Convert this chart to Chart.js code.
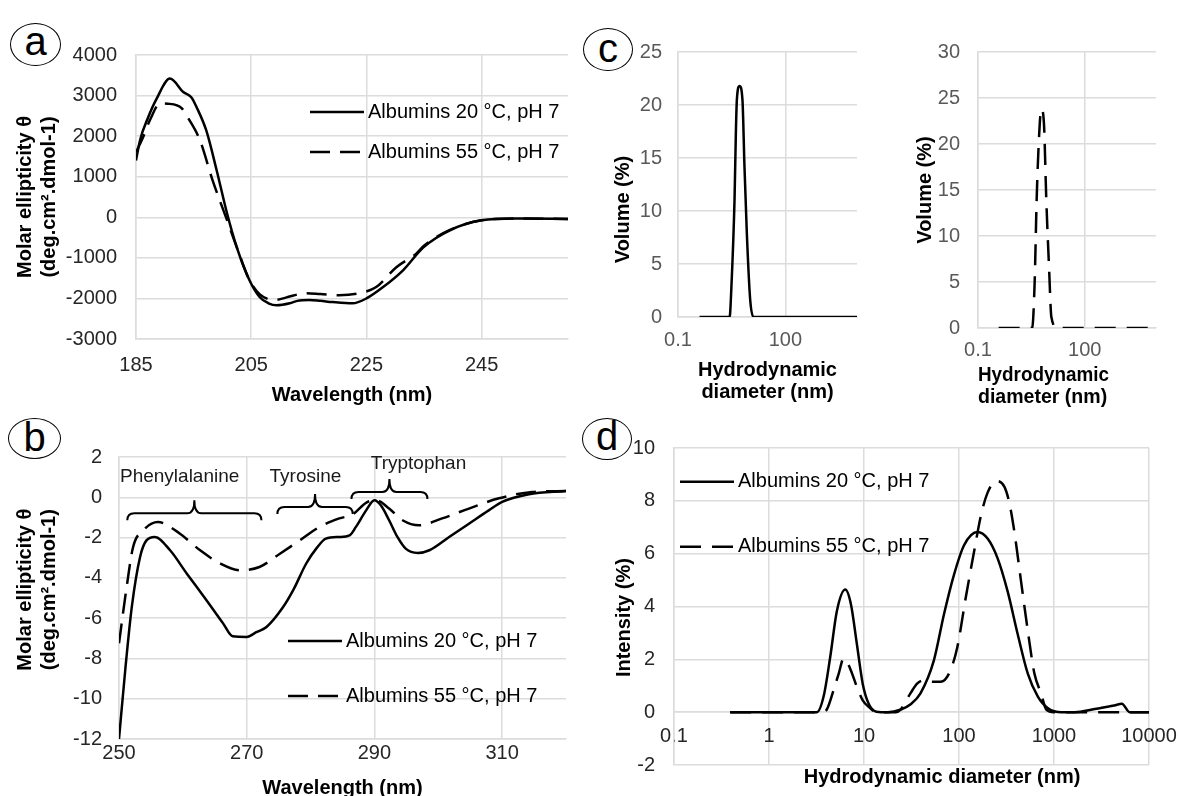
<!DOCTYPE html>
<html>
<head>
<meta charset="utf-8">
<script src="https://cdn.jsdelivr.net/npm/chart.js@4.4.1/dist/chart.umd.min.js"></script>
<style>
    html, body { margin: 0; padding: 0; background: #fff; width: 1178px; height: 796px; overflow: hidden; }
    canvas { position: absolute; }
    .tag {
        position: absolute; box-sizing: border-box; border: 1.5px solid #000; border-radius: 50%;
        font: 40px "Liberation Sans", Arial, sans-serif; text-align: center; color: #000;
    }
</style>
</head>
<body>
<div class="tag" style="left:10px;top:23px;width:51px;height:43px;line-height:34px;">a</div>
<div class="tag" style="left:8px;top:418px;width:53px;height:41px;line-height:36px;">b</div>
<div class="tag" style="left:583px;top:28px;width:50px;height:43px;line-height:38px;">c</div>
<div class="tag" style="left:582px;top:418px;width:50px;height:42px;line-height:35px;">d</div>

<canvas id="chartA" width="580" height="400" style="left:0;top:10px"></canvas>
<canvas id="chartB" width="580" height="400" style="left:0;top:410px"></canvas>
<canvas id="chartC1" width="300" height="390" style="left:570px;top:20px"></canvas>
<canvas id="chartC2" width="290" height="400" style="left:880px;top:20px"></canvas>
<canvas id="chartD" width="623" height="386" style="left:570px;top:410px"></canvas>

<script>
// (a) far-UV CD spectra
const farWavelength20 = [185, 185.7, 187.1, 188.5, 190.9, 193.2, 194.6, 195.5, 197.2, 199, 200.8, 202.5, 204.7, 206.5, 208, 209.4, 211.7, 213, 215.1, 217, 219.1, 222.6, 225, 227.9, 231.4, 234.9, 239.5, 245, 251, 260];
const farTheta20 = [1400, 1900, 2460, 2900, 3420, 3090, 2960, 2720, 2140, 1160, 100, -740, -1550, -1970, -2120, -2170, -2120, -2060, -2040, -2060, -2090, -2120, -2000, -1720, -1300, -740, -320, -75, -30, -40];
const farWavelength55 = [185, 186.3, 187.4, 189.2, 190.5, 192.1, 193, 194, 196.1, 198.3, 200.8, 202.5, 204.7, 206.5, 209.1, 211, 214.6, 217, 220.3, 223.8, 226.7, 230.2, 233.7, 235, 239.5, 245, 251, 260];
const farTheta55 = [1600, 2000, 2390, 2810, 2800, 2760, 2680, 2460, 1900, 910, -70, -740, -1550, -1900, -2040, -1980, -1870, -1890, -1920, -1870, -1720, -1230, -890, -700, -310, -75, -30, -40];
const farTicksX = [185, 205, 225, 245];

// (b) near-UV CD spectra
const nearWavelength20 = [250, 251, 252, 253.3, 254.3, 255.6, 258, 260.6, 263.7, 266.3, 267.8, 270, 271.5, 273.1, 275.7, 277.3, 279.3, 281, 282.4, 284.5, 286.1, 287.1, 288.7, 290, 291, 292.3, 293.6, 294.9, 296.8, 298.6, 301.7, 304.8, 307.9, 310, 314.2, 320];
const nearTheta20 = [-12, -8.5, -5.45, -2.96, -2.14, -1.97, -2.63, -3.78, -5.11, -6.26, -6.9, -6.93, -6.7, -6.44, -5.45, -4.6, -3.3, -2.5, -2.05, -1.97, -1.89, -1.47, -0.65, -0.15, -0.4, -1.14, -1.97, -2.55, -2.76, -2.63, -1.97, -1.31, -0.65, -0.23, 0.15, 0.31];
const nearWavelength55 = [250, 251.2, 252.2, 253.8, 256.1, 259.5, 262.7, 265.8, 268.9, 272, 275.2, 278.3, 281.4, 284.5, 286.6, 288.8, 290.3, 292.3, 294.4, 297, 300.6, 304.8, 309.5, 314.7, 320];
const nearTheta55 = [-7.25, -4.45, -2.48, -1.64, -1.23, -1.8, -2.63, -3.28, -3.62, -3.46, -2.8, -2.14, -1.47, -1.05, -0.85, -0.25, -0.15, -0.56, -1.14, -1.39, -1.05, -0.56, -0.05, 0.26, 0.31];
const nearTicksX = [250, 270, 290, 310];
const braceLabels = ['Phenylalanine', 'Tyrosine', 'Tryptophan'];
const braceFrom = [251.3, 274.8, 286.4];
const braceTo = [272.3, 286.6, 298.3];

// (c) DLS volume distributions
const volDiameter20 = [0.4, 2.74, 2.85, 2.99, 3.79, 4.13, 4.41, 5.24, 6.31, 7.19, 8.37, 10.4, 12.9, 10000];
const volPercent20 = [0, 0, 0.3, 1.6, 11.0, 17.3, 20.5, 21.8, 20.5, 14.2, 7.9, 1.6, 0, 0];
const volDiameter55 = [0.38, 3.0, 3.35, 3.89, 4.44, 5.13, 6.0, 7.1, 8.3, 9.9, 11.5, 17, 10000];
const volPercent55 = [0, 0, 0.1, 4.8, 13.9, 20.4, 23.8, 22.3, 13.9, 6.6, 1.2, 0, 0];
const volTicksX = [0.1, 100];

// (d) DLS intensity distributions
const intDiameter20 = [0.39, 3.2, 3.76, 4.41, 5.19, 6.36, 7.3, 8.42, 9.7, 11.2, 13.5, 17.9, 24.1, 31, 39.3, 54.4, 69.4, 88.5, 113, 157, 200, 255, 325, 415, 530, 676, 865, 1200, 1650, 2690, 4300, 5180, 6250, 10000];
const intPercent20 = [0, 0, 0.6, 2.09, 3.84, 4.64, 4.07, 2.57, 1.07, 0.32, 0.02, 0, 0.09, 0.3, 0.71, 1.96, 3.7, 5.2, 6.32, 6.82, 6.57, 5.82, 4.57, 2.95, 1.46, 0.59, 0.15, 0, 0, 0.12, 0.25, 0.32, 0, 0];
const intDiameter55 = [0.39, 3.6, 4.06, 4.8, 5.42, 6.1, 6.5, 7.3, 8.42, 9.7, 11.2, 13.5, 21.5, 24.1, 30.8, 36.2, 42.6, 53, 64, 78.4, 96, 117.7, 144, 170, 200, 245, 300, 338, 383, 450, 530, 622, 730, 830, 1000, 10000];
const intPercent55 = [0, 0, 0.1, 0.85, 1.46, 2.03, 1.95, 1.57, 0.95, 0.45, 0.2, 0, 0, 0.09, 0.71, 1.08, 1.21, 1.15, 1.15, 1.46, 2.46, 4.33, 6.07, 7.44, 8.31, 8.75, 8.54, 7.94, 6.82, 4.95, 3.08, 1.46, 0.71, 0.1, 0, 0];
const intTicksX = [0.1, 1, 10, 100, 1000, 10000];

const seriesLabels = ['Albumins 20 °C, pH 7', 'Albumins 55 °C, pH 7'];

const FONT = '"Liberation Sans", Arial, sans-serif';
const GRID = '#dcdcdc';
const GRID_WIDTH = 1.5;

function toPoints(xs, ys) {
    return xs.map((x, i) => ({ x, y: ys[i] }));
}

function fixedTicks(values) {
    return scale => { scale.ticks = values.map(value => ({ value })); };
}

function series(label, xs, ys, dash) {
    return {
        label,
        data: toPoints(xs, ys),
        borderColor: '#000',
        borderWidth: 2.5,
        borderDash: dash || [],
        pointRadius: 0,
        tension: 0.4,
        cubicInterpolationMode: 'monotone',
        fill: false
    };
}

// Pads a title so its visible part sits off-centre, like the original layout.
function shifted(text, before, after) {
    return ' '.repeat(before) + text + ' '.repeat(after);
}

// Legend drawn inside the plot area, one row per dataset.
const lineLegend = {
    id: 'lineLegend',
    afterDatasetsDraw(chart, args, opts) {
        if (!opts || !opts.display) { return; }
        const { ctx, chartArea } = chart;
        ctx.save();
        chart.data.datasets.forEach((ds, i) => {
            const x0 = chartArea.left + opts.x;
            const y = chartArea.top + opts.y + i * opts.rowGap;
            ctx.beginPath();
            ctx.setLineDash(ds.borderDash || []);
            ctx.lineWidth = ds.borderWidth;
            ctx.strokeStyle = ds.borderColor;
            ctx.moveTo(x0, y);
            ctx.lineTo(x0 + opts.length, y);
            ctx.stroke();
            ctx.setLineDash([]);
            ctx.fillStyle = '#000';
            ctx.font = '20px ' + FONT;
            ctx.textBaseline = 'middle';
            ctx.textAlign = 'left';
            ctx.fillText(ds.label, x0 + opts.length + 4, y);
        });
        ctx.restore();
    }
};

// Curly braces marking the aromatic residue bands in (b).
const braces = {
    id: 'braces',
    afterDatasetsDraw(chart, args, opts) {
        if (!opts || !opts.levels) { return; }
        const { ctx } = chart;
        const xs = chart.scales.x;
        const ys = chart.scales.y;
        ctx.save();
        ctx.strokeStyle = '#000';
        ctx.lineWidth = 2;
        ctx.setLineDash([]);
        ctx.font = '19px ' + FONT;
        ctx.fillStyle = '#1a1a1a';
        ctx.textAlign = 'center';
        ctx.textBaseline = 'middle';
        braceLabels.forEach((label, i) => {
            const x1 = xs.getPixelForValue(braceFrom[i]);
            const x2 = xs.getPixelForValue(braceTo[i]);
            const xm = (x1 + x2) / 2;
            const yb = ys.getPixelForValue(opts.levels[i]);
            const r = 7;
            ctx.beginPath();
            ctx.moveTo(x1, yb + 7);
            ctx.quadraticCurveTo(x1, yb, x1 + r, yb);
            ctx.lineTo(xm - r, yb);
            ctx.quadraticCurveTo(xm, yb, xm, yb - 13);
            ctx.quadraticCurveTo(xm, yb, xm + r, yb);
            ctx.lineTo(x2 - r, yb);
            ctx.quadraticCurveTo(x2, yb, x2, yb + 7);
            ctx.stroke();
            ctx.fillText(label, xs.getPixelForValue(opts.textX[i]), ys.getPixelForValue(opts.textY[i]));
        });
        ctx.restore();
    }
};

function tickFont(size) {
    return { family: FONT, size: size || 20 };
}

function titleFont(lineHeight) {
    return { family: FONT, size: 20, weight: 'bold', lineHeight: lineHeight || 1.2 };
}

function gridStyle() {
    return { color: GRID, lineWidth: GRID_WIDTH, drawTicks: false };
}

function baseOptions(padding) {
    return {
        responsive: false,
        animation: false,
        layout: { padding },
        plugins: { legend: { display: false }, tooltip: { enabled: false } },
        elements: { line: { borderCapStyle: 'butt' } }
    };
}

const plain = v => String(v);

// (a)
const optsA = baseOptions({ top: 45, right: 12, left: 0, bottom: 0 });
optsA.plugins.lineLegend = { display: true, x: 174, y: 57, rowGap: 40, length: 54 };
optsA.scales = {
    x: {
        type: 'linear', min: 185, max: 260,
        afterBuildTicks: fixedTicks(farTicksX),
        afterFit: s => { s.height = 71; },
        grid: gridStyle(),
        border: { color: GRID, width: GRID_WIDTH },
        ticks: { font: tickFont(), color: '#262626', padding: 14, callback: plain },
        title: { display: true, text: 'Wavelength (nm)', font: titleFont(), color: '#000', padding: { top: 0, bottom: 3 } }
    },
    y: {
        min: -3000, max: 4000,
        afterFit: s => { s.width = 136; },
        grid: gridStyle(),
        border: { color: GRID, width: GRID_WIDTH },
        ticks: { stepSize: 1000, font: tickFont(), color: '#262626', padding: 19, callback: plain },
        title: { display: true, text: ['Molar ellipticity θ', '(deg.cm².dmol-1)'], font: titleFont(), color: '#000', padding: { top: 13, bottom: 0 } }
    }
};
new Chart(document.getElementById('chartA'), {
    type: 'line',
    data: { datasets: [
        series(seriesLabels[0], farWavelength20, farTheta20),
        series(seriesLabels[1], farWavelength55, farTheta55, [20, 10])
    ] },
    options: optsA,
    plugins: [lineLegend]
});

// (b)
const optsB = baseOptions({ top: 47, right: 14, left: 0, bottom: 0 });
optsB.plugins.lineLegend = { display: true, x: 169, y: 184, rowGap: 55, length: 54 };
optsB.plugins.braces = { levels: [-0.79, -0.48, 0.26], textX: [259.5, 279.2, 296.9], textY: [1.0, 1.0, 1.67] };
optsB.scales = {
    x: {
        type: 'linear', min: 250, max: 320,
        afterBuildTicks: fixedTicks(nearTicksX),
        afterFit: s => { s.height = 71; },
        grid: gridStyle(),
        border: { color: GRID, width: GRID_WIDTH },
        ticks: { font: tickFont(), color: '#262626', padding: 2, callback: plain },
        title: { display: true, text: 'Wavelength (nm)', font: titleFont(), color: '#000', padding: { top: 0, bottom: 10 } }
    },
    y: {
        min: -12, max: 2,
        afterFit: s => { s.width = 119; },
        grid: gridStyle(),
        border: { color: GRID, width: GRID_WIDTH },
        ticks: { stepSize: 2, font: tickFont(), color: '#262626', padding: 17, callback: plain },
        title: {
            display: true,
            text: [shifted('Molar ellipticity θ', 3, 0), shifted('(deg.cm².dmol-1)', 3, 0)],
            font: titleFont(), color: '#000', padding: { top: 13, bottom: 0 }
        }
    }
};
new Chart(document.getElementById('chartB'), {
    type: 'line',
    data: { datasets: [
        series(seriesLabels[0], nearWavelength20, nearTheta20),
        series(seriesLabels[1], nearWavelength55, nearTheta55, [20, 10])
    ] },
    options: optsB,
    plugins: [lineLegend, braces]
});

// (c) two small volume plots
function volumeOptions(cfg) {
    const o = baseOptions({ top: 32, right: cfg.right, left: 0, bottom: 0 });
    o.scales = {
        x: {
            type: 'logarithmic', min: 0.1, max: 10000,
            afterBuildTicks: fixedTicks(volTicksX),
            afterFit: s => { s.height = cfg.xHeight; },
            grid: gridStyle(),
            border: { color: GRID, width: GRID_WIDTH },
            ticks: { font: tickFont(), color: '#595959', padding: cfg.xPad, callback: plain },
            title: {
                display: true,
                text: [shifted('Hydrodynamic', 0, cfg.xShift), shifted('diameter (nm)', 0, cfg.xShift)],
                font: titleFont(1.1), color: '#000', padding: { top: 0, bottom: cfg.titleBottom }
            }
        },
        y: {
            min: 0, max: cfg.yMax,
            afterFit: s => { s.width = cfg.yWidth; },
            grid: gridStyle(),
            border: { color: GRID, width: GRID_WIDTH },
            ticks: { stepSize: 5, font: tickFont(), color: '#595959', padding: cfg.yPad, callback: plain },
            title: {
                display: true, text: shifted('Volume (%)', 0, cfg.yShift),
                font: titleFont(), color: '#000', padding: { top: cfg.titleLeft, bottom: 0 }
            }
        }
    };
    return o;
}

new Chart(document.getElementById('chartC1'), {
    type: 'line',
    data: { datasets: [series(seriesLabels[0], volDiameter20, volPercent20)] },
    options: volumeOptions({ right: 13, xHeight: 93, xPad: 11, titleBottom: 7, xShift: 0, yMax: 25, yWidth: 108, yPad: 16, titleLeft: 41, yShift: 9 })
});

new Chart(document.getElementById('chartC2'), {
    type: 'line',
    data: { datasets: [series(seriesLabels[1], volDiameter55, volPercent55, [21, 11])] },
    options: volumeOptions({ right: 14, xHeight: 92, xPad: 10, titleBottom: 12, xShift: 9, yMax: 30, yWidth: 98, yPad: 18, titleLeft: 33, yShift: 0 })
});

// (d) intensity distributions, x axis crosses at y = 0
const optsD = baseOptions({ top: 38, right: 44, left: 0, bottom: 0 });
optsD.plugins.lineLegend = { display: true, x: 6, y: 33.7, rowGap: 65, length: 54 };
optsD.scales = {
    x: {
        type: 'logarithmic', min: 0.1, max: 10000,
        position: { y: 0 },
        afterBuildTicks: fixedTicks(intTicksX),
        grid: gridStyle(),
        border: { color: GRID, width: GRID_WIDTH },
        ticks: { font: tickFont(), color: '#262626', padding: 12, callback: plain }
    },
    xTitle: {
        type: 'logarithmic', min: 0.1, max: 10000,
        position: 'bottom',
        afterFit: s => { s.height = 26.5; },
        grid: { display: false },
        border: { display: false },
        ticks: { display: false },
        title: { display: true, text: shifted('Hydrodynamic diameter (nm)', 11, 0), font: titleFont(), color: '#000', padding: { top: 0, bottom: 2 } }
    },
    y: {
        min: -2, max: 10,
        afterFit: s => { s.width = 104; },
        grid: gridStyle(),
        border: { color: GRID, width: GRID_WIDTH },
        ticks: { stepSize: 2, font: tickFont(), color: '#262626', padding: 19, callback: plain },
        title: { display: true, text: shifted('Intensity (%)', 0, 4), font: titleFont(), color: '#000', padding: { top: 42, bottom: 0 } }
    }
};
new Chart(document.getElementById('chartD'), {
    type: 'line',
    data: { datasets: [
        series(seriesLabels[0], intDiameter20, intPercent20),
        series(seriesLabels[1], intDiameter55, intPercent55, [21, 11])
    ] },
    options: optsD,
    plugins: [lineLegend]
});
</script>
</body>
</html>
